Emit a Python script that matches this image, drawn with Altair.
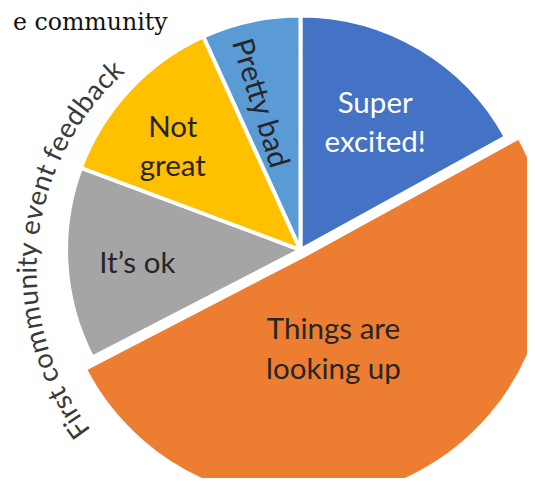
import math
import altair as alt
import pandas as pd

# ---- data ----
categories = ["Super excited!", "Things are looking up", "It’s ok", "Not great", "Pretty bad"]
label_texts = ["Super\nexcited!", "Things are\nlooking up", "It’s ok", "Not\ngreat", "Pretty bad"]
values = [17, 50.4, 13.3, 12.5, 6.8]
colors = ["#4472C4", "#ED7D31", "#A5A5A5", "#FFC000", "#5B9BD5"]
arc_title = "First community event feedback"
top_title = "e community"

df = pd.DataFrame({
    "cat": categories,
    "label": label_texts,
    "value": values,
    "order": list(range(len(categories))),
})

# ---- layout / style (not data) ----
W, H = 527, 470
CX, CY = 297, 242          # pie centre in chart coordinates
R = 238
EXPLODE = "Things are looking up"
EX_DX, EX_DY, EX_R = 3, 6, 250
FONT = "Lato"
LH = 40

theta_scale = alt.Scale(domain=[0, 1], range=[0, 2 * math.pi])
color_scale = alt.Scale(domain=categories, range=colors)

base = (
    alt.Chart(df)
    .transform_joinaggregate(total="sum(value)")
    .transform_window(cum="sum(value)", sort=[alt.SortField("order")], frame=[None, 0])
    .transform_calculate(
        f0="(datum.cum - datum.value) / datum.total",
        f1="datum.cum / datum.total",
        fm="(datum.cum - datum.value / 2) / datum.total",
    )
)

pie = base.transform_filter(alt.datum.cat != EXPLODE).mark_arc(
    radius=R, stroke="white", strokeWidth=4
).encode(
    theta=alt.Theta("f0:Q", scale=theta_scale),
    theta2="f1:Q",
    color=alt.Color("cat:N", scale=color_scale, legend=None),
    x=alt.value(CX),
    y=alt.value(CY),
)

exploded = base.transform_filter(alt.datum.cat == EXPLODE).mark_arc(
    radius=EX_R, stroke="white", strokeWidth=4
).encode(
    theta=alt.Theta("f0:Q", scale=theta_scale),
    theta2="f1:Q",
    color=alt.Color("cat:N", scale=color_scale, legend=None),
    x=alt.value(CX + EX_DX),
    y=alt.value(CY + EX_DY),
)

# multi-line labels: vega anchors the first line, so lift by half the extra lines
label_style = {
    "Super excited!": dict(r=149, color="white", angle=0, dx=0, dy=-LH / 2, ox=0, oy=0),
    "Things are looking up": dict(r=105, color="#262626", angle=0, dx=-19, dy=3 - LH / 2, ox=EX_DX, oy=EX_DY),
    "It’s ok": dict(r=166, color="#262626", angle=0, dx=0, dy=5, ox=0, oy=0),
    "Not great": dict(r=165, color="#262626", angle=0, dx=-9, dy=9 - LH / 2, ox=0, oy=0),
    "Pretty bad": dict(r=155, color="#262626", angle=73, dx=0, dy=9, ox=0, oy=0),
}

label_layers = []
for cat in categories:
    s = label_style[cat]
    label_layers.append(
        base.transform_filter(alt.datum.cat == cat).mark_text(
            font=FONT, fontSize=30, lineBreak="\n", lineHeight=LH,
            align="center", baseline="middle", color=s["color"],
            angle=s["angle"], dx=s["dx"], dy=s["dy"],
        ).encode(
            theta=alt.Theta("fm:Q", scale=theta_scale, stack=None),
            radius=alt.value(s["r"]),
            text="label:N",
            x=alt.value(CX + s["ox"]),
            y=alt.value(CY + s["oy"]),
        )
    )

# ---- curved title along the left side ----
glyph_w = {'F': 0.55, 'i': 0.23, 'r': 0.35, 's': 0.41, 't': 0.33, ' ': 0.26, 'c': 0.48,
           'o': 0.56, 'm': 0.84, 'u': 0.56, 'n': 0.56, 'y': 0.5, 'e': 0.53, 'v': 0.5,
           'f': 0.33, 'd': 0.56, 'b': 0.56, 'a': 0.5, 'k': 0.5}
T_START, T_END, T_R, T_DY = 234.2, 316.9, 276, 20
centres, acc = [], 0.0
for ch in arc_title:
    w = glyph_w.get(ch, 0.5)
    centres.append(acc + w / 2)
    acc += w
c0, c1 = centres[0], centres[-1]
chars = pd.DataFrame({
    "ch": list(arc_title),
    "deg": [T_START + (c - c0) / (c1 - c0) * (T_END - T_START) for c in centres],
})
chars["frac"] = chars["deg"] / 360.0

curved = alt.Chart(chars).mark_text(
    font=FONT, fontSize=28, align="center", baseline="middle", color="#3a3a3a"
).encode(
    theta=alt.Theta("frac:Q", scale=theta_scale, stack=None),
    radius=alt.value(T_R),
    angle=alt.Angle("deg:Q", scale=None),
    text="ch:N",
    x=alt.value(CX),
    y=alt.value(CY + T_DY),
)

top = alt.Chart(pd.DataFrame({"t": [top_title]})).mark_text(
    font="DejaVu Serif", fontSize=24, align="right", baseline="alphabetic", color="#111111"
).encode(
    text="t:N",
    x=alt.value(162),
    y=alt.value(19),
)

chart = alt.layer(pie, exploded, *label_layers, curved, top).properties(
    width=W, height=H, padding=0, background="white",
    autosize=alt.AutoSizeParams(type="none"),
).configure_view(stroke="transparent", strokeWidth=0)

chart.save("out.html", embed_options={"renderer": "svg", "actions": False})
